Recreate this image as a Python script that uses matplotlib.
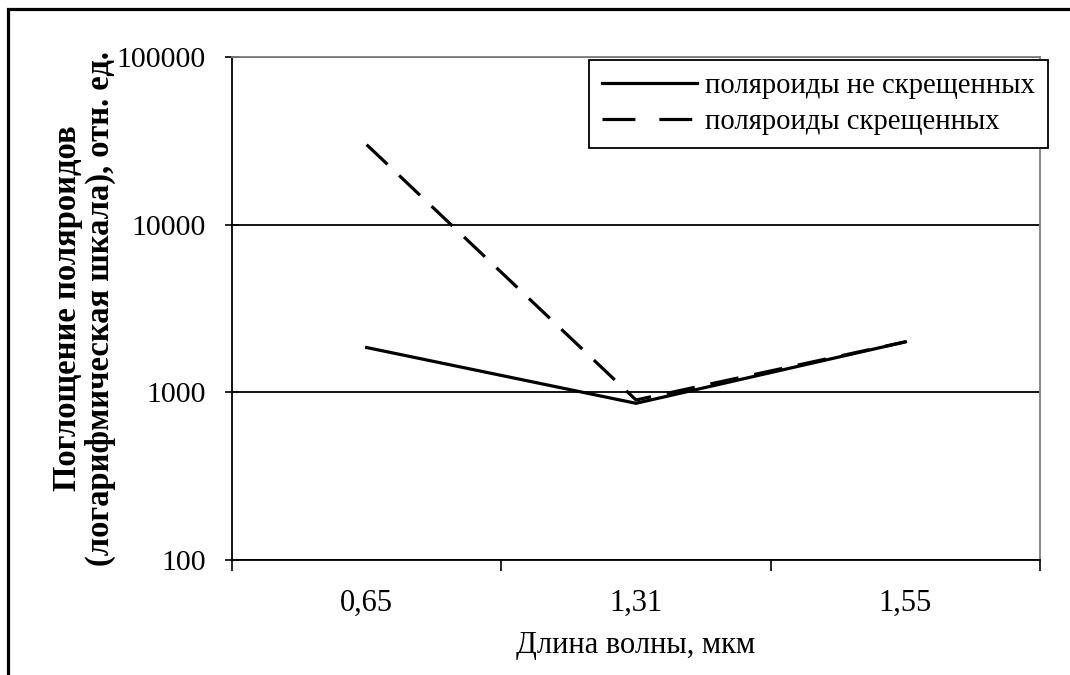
import matplotlib
matplotlib.use("Agg")
import matplotlib.pyplot as plt
from matplotlib.patches import Rectangle
from matplotlib.ticker import FixedLocator, NullLocator, NullFormatter, FixedFormatter

# данные
wavelengths = ['0,65', '1,31', '1,55']
not_crossed = [1850, 860, 2000]
crossed = [30000, 900, 2000]
y_ticks = [100, 1000, 10000, 100000]
y_labels = ['100', '1000', '10000', '100000']

plt.rcParams['font.family'] = ['Liberation Serif', 'DejaVu Serif']

fig = plt.figure(figsize=(10.7, 6.75), dpi=100)
ax = fig.add_axes([232/1070, 1 - 560/675, 808/1070, 503/675])

x = list(range(len(wavelengths)))
ax.plot(x, not_crossed, color='black', lw=2.3, label='поляроиды не скрещенных')
ax.plot(x, crossed, color='black', lw=2.3, dashes=(9, 5), label='поляроиды скрещенных')

ax.set_yscale('log')
ax.set_ylim(100, 100000)
ax.set_xlim(-0.5, 2.5)

ax.yaxis.set_major_locator(FixedLocator(y_ticks))
ax.yaxis.set_major_formatter(FixedFormatter(y_labels))
ax.yaxis.set_minor_locator(NullLocator())
ax.tick_params(axis='y', which='major', direction='inout', length=10, width=1.2,
               labelsize=21.5, pad=14)

ax.xaxis.set_major_locator(FixedLocator([-0.5, 0.5, 1.5, 2.5]))
ax.xaxis.set_major_formatter(NullFormatter())
ax.xaxis.set_minor_locator(FixedLocator(x))
ax.xaxis.set_minor_formatter(FixedFormatter(wavelengths))
ax.tick_params(axis='x', which='major', direction='out', length=8, width=1.2)
ax.tick_params(axis='x', which='minor', length=0, labelsize=22, pad=21)

ax.grid(axis='y', which='major', color='black', lw=1.3)
for s in ['top', 'right']:
    ax.spines[s].set_color('#808080')
    ax.spines[s].set_linewidth(1.3)
for s in ['left', 'bottom']:
    ax.spines[s].set_color('black')
    ax.spines[s].set_linewidth(1.3)

ax.set_xlabel('Длина волны, мкм', fontsize=22, labelpad=9)
ax.set_ylabel('Поглощение поляроидов\n(логарифмическая шкала), отн. ед.',
              fontsize=23.5, fontweight='bold', labelpad=0, linespacing=1.1)

leg = ax.legend(loc='upper right', bbox_to_anchor=(1048/1070, 1 - 60/675),
                bbox_transform=fig.transFigure, fontsize=20.6, frameon=True,
                fancybox=False, edgecolor='black', framealpha=1,
                handlelength=3.3, handletextpad=0.3, borderpad=0.45,
                labelspacing=0.35, borderaxespad=0)
leg.get_frame().set_linewidth(1.3)
leg.get_lines()[1].set_dashes((10.3, 7.5))

# внешняя рамка
fig.patches.append(Rectangle((8/1070, -0.1), 1.2, 1 - 9/675 + 0.1,
                             transform=fig.transFigure, fill=False,
                             edgecolor='black', lw=2.3, clip_on=False))

fig.savefig('out.png', dpi=100)
